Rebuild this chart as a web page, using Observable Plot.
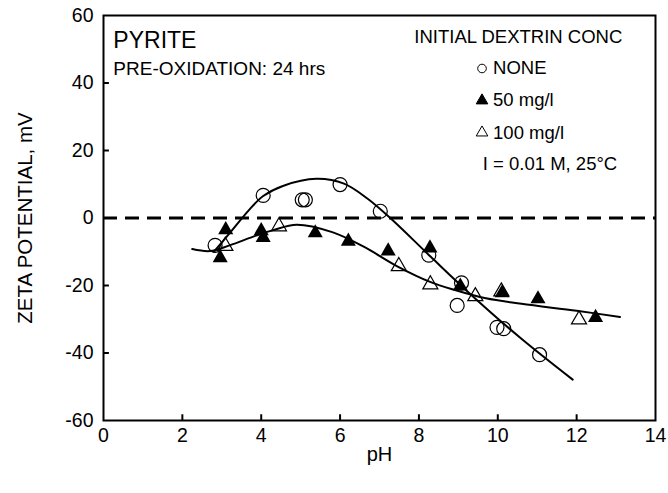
<!DOCTYPE html>
<html>
<head>
<meta charset="utf-8">
<script src="https://cdn.jsdelivr.net/npm/d3@7"></script>
<script src="https://cdn.jsdelivr.net/npm/@observablehq/plot@0.6"></script>
<style>
  html, body { margin: 0; padding: 0; background: #fff; }
  #chart svg { display: block; }
</style>
</head>
<body>
<div id="chart"></div>
<script>
// ---- Data ----
const xTicks = [0, 2, 4, 6, 8, 10, 12, 14];
const yTicks = [-60, -40, -20, 0, 20, 40, 60];

// Open circles: no dextrin
const phNone   = [2.83, 4.05, 5.04, 5.12, 6.0, 7.02, 8.25, 8.97, 9.08, 9.98, 10.15, 11.06];
const zetaNone = [-8.1, 6.7, 5.4, 5.4, 9.9, 2.0, -11.0, -25.9, -19.2, -32.4, -32.8, -40.5];

// Filled triangles: 50 mg/l
const ph50   = [2.96, 3.1, 4.0, 4.05, 5.37, 6.21, 7.22, 8.28, 9.05, 10.11, 11.02, 12.48];
const zeta50 = [-11.8, -3.5, -3.8, -5.8, -4.4, -6.9, -9.8, -8.9, -20.2, -22.2, -24.0, -29.5];

// Open triangles: 100 mg/l
const ph100   = [3.09, 4.45, 7.49, 8.29, 9.43, 10.09, 12.06];
const zeta100 = [-8.3, -2.5, -14.3, -19.7, -23.2, -21.8, -30.1];

// Fitted curve (no dextrin)
const fitNonePh   = [2.8, 3.2, 3.7, 4.05, 4.55, 5.4, 6.1, 6.7, 7.3, 8.3, 9.3, 10.6, 11.9];
const fitNoneZeta = [-10, -4.5, 2.5, 6.5, 9.5, 11.6, 10.2, 5.7, -0.3, -11.5, -22.5, -35.8, -47.9];

// Fitted curve (dextrin)
const fitDexPh   = [2.25, 2.7, 3.2, 3.85, 4.3, 4.9, 5.8, 6.6, 7.45, 8.3, 8.9, 9.7, 10.6, 12.0, 13.1];
const fitDexZeta = [-9.2, -9.8, -8.1, -5.3, -3.6, -2.0, -4.2, -8.5, -14.3, -19.0, -21.3, -23.8, -25.4, -27.5, -29.3];

// Annotation texts and their anchors in data units
const titleLines  = ["PYRITE", "PRE-OXIDATION: 24 hrs"];
const titleX      = [0.25, 0.25];
const titleY      = [52.6, 44.3];
const titleSizes  = [23, 19];

const legendHead  = "INITIAL DEXTRIN CONC";
const legendHeadX = 10.52;
const legendHeadY = 53.6;
const legendLabels = ["NONE", "50 mg/l", "100 mg/l"];
const legendSymbols = ["circle", "triangle", "triangle"];
const legendFills = ["none", "#000", "none"];
const legendMarkX = 9.6;
const legendTextX = 9.88;
const legendY     = [44.3, 34.8, 25.3];
const conditions  = "I = 0.01 M, 25\u00B0C";
const conditionsX = 9.62;
const conditionsY = 15.9;

const xLabel = "pH";
const yLabel = "ZETA POTENTIAL, mV";

// ---- Build tables ----
const none = phNone.map((x, i) => ({x, y: zetaNone[i]}));
const d50  = ph50.map((x, i) => ({x, y: zeta50[i]}));
const d100 = ph100.map((x, i) => ({x, y: zeta100[i]}));
const fitNone = fitNonePh.map((x, i) => ({x, y: fitNoneZeta[i]}));
const fitDex  = fitDexPh.map((x, i) => ({x, y: fitDexZeta[i]}));
const titles  = titleLines.map((t, i) => ({t, x: titleX[i], y: titleY[i], s: titleSizes[i]}));
const legend  = legendLabels.map((t, i) => ({t, y: legendY[i], sym: legendSymbols[i], fill: legendFills[i]}));

const font = "Liberation Sans, Arial, sans-serif";
const fmt = d => String(d);

const chart = Plot.plot({
  width: 668,
  height: 493,
  marginLeft: 103,
  marginRight: 13,
  marginTop: 15,
  marginBottom: 73,
  style: {fontFamily: font, background: "#fff", color: "#000"},
  x: {domain: [0, 14], ticks: xTicks},
  y: {domain: [-60, 60], ticks: yTicks},
  marks: [
    // axes labels (ticks drawn inward separately)
    Plot.axisX({ticks: xTicks, tickSize: 0, tickPadding: 8, fontSize: 19.5, label: null, tickFormat: fmt}),
    Plot.axisY({ticks: yTicks, tickSize: 0, tickPadding: 10, fontSize: 19.5, label: null, tickFormat: fmt}),
    Plot.ruleX(xTicks.slice(1, -1), {x: d => d, y1: -60, y2: -58.3, stroke: "#000", strokeWidth: 2}),
    Plot.ruleY(yTicks.slice(1, -1), {y: d => d, x1: 0, x2: 0.15, stroke: "#000", strokeWidth: 2}),
    Plot.text([xLabel], {frameAnchor: "bottom", dy: 40, fontSize: 20, text: d => d}),
    Plot.text([yLabel], {frameAnchor: "left", dx: -78, rotate: -90, textAnchor: "middle", fontSize: 20.5, text: d => d}),
    // zero line
    Plot.ruleY([0], {stroke: "#000", strokeWidth: 3, strokeDasharray: "14,8"}),
    // fitted curves
    Plot.line(fitNone, {x: "x", y: "y", curve: "catmull-rom", stroke: "#000", strokeWidth: 2}),
    Plot.line(fitDex, {x: "x", y: "y", curve: "catmull-rom", stroke: "#000", strokeWidth: 2}),
    // data points
    Plot.dot(none, {x: "x", y: "y", r: 7, stroke: "#000", fill: "none", strokeWidth: 1.2}),
    Plot.dot(d100, {x: "x", y: "y", r: 5.6, symbol: "triangle", stroke: "#000", fill: "none", strokeWidth: 1.2}),
    Plot.dot(d50, {x: "x", y: "y", r: 5.6, symbol: "triangle", fill: "#000", stroke: "none"}),
    // annotations
    Plot.text(titles, {x: "x", y: "y", text: "t", fontSize: "s", textAnchor: "start"}),
    Plot.text([legendHead], {x: legendHeadX, y: legendHeadY, text: d => d, fontSize: 18.5}),
    Plot.dot(legend, {x: legendMarkX, y: "y", symbol: "sym", fill: "fill", stroke: "#000", strokeWidth: 1, r: 4.3}),
    Plot.text(legend, {x: legendTextX, y: "y", text: "t", fontSize: 18.5, textAnchor: "start"}),
    Plot.text([conditions], {x: conditionsX, y: conditionsY, text: d => d, fontSize: 18.5, textAnchor: "start"}),
    Plot.frame({stroke: "#000", strokeWidth: 2})
  ]
});
document.getElementById("chart").appendChild(chart);
</script>
</body>
</html>
